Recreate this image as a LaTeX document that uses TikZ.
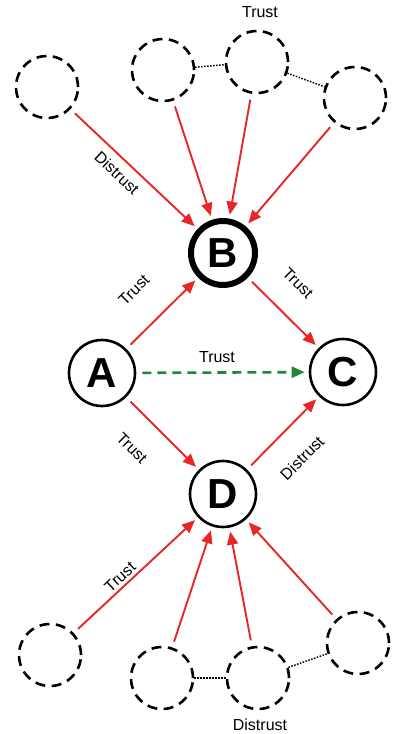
\documentclass[tikz,border=0pt]{standalone}
\usepackage{fontspec}
\setmainfont{Liberation Sans}
\usetikzlibrary{arrows.meta}
\definecolor{arrred}{RGB}{232,38,38}
\definecolor{arrgreen}{RGB}{34,135,48}
\tikzset{
  main/.style={circle, draw, line width=2.6pt, minimum size=66pt, inner sep=0pt, font=\fontsize{42}{42}\selectfont\bfseries},
  mainthick/.style={main, line width=6pt, minimum size=64pt},
  ghost/.style={circle, draw, line width=2.6pt, minimum size=62pt, inner sep=0pt, dash pattern=on 10pt off 6.4pt},
  rel/.style={draw=arrred, line width=1.9pt, -{Triangle[length=13pt,width=11pt]}, shorten >=4pt, shorten <=6pt},
  trans/.style={draw=arrgreen, line width=2.6pt, dash pattern=on 9pt off 6pt, -{Triangle[length=13pt,width=11pt]}, shorten >=4pt, shorten <=6pt},
  link/.style={line width=1.5pt, dash pattern=on 1.5pt off 1.5pt},
  lbl/.style={font=\fontsize{16}{16}\selectfont, inner sep=0pt}
}
\begin{document}
\begin{tikzpicture}[x=1pt,y=-1pt]
\useasboundingbox (0,0) rectangle (392,734);
% main nodes
\node[main] (A) at (102,373) {A};
\node[mainthick] (B) at (223,253) {B};
\node[main] (C) at (343,372) {C};
\node[main] (D) at (223,494) {D};
% top ghosts
\node[ghost] (T1) at (47,87) {};
\node[ghost] (T2) at (163,70) {};
\node[ghost] (T3) at (257,62) {};
\node[ghost] (T4) at (355,98) {};
% bottom ghosts
\node[ghost] (L1) at (50,655) {};
\node[ghost] (L2) at (162,678) {};
\node[ghost] (L3) at (258,678) {};
\node[ghost] (L4) at (358,643) {};
% dotted links
\draw[link] (T2) -- (T3);
\draw[link] (T3) -- (T4);
\draw[link] (L2) -- (L3);
\draw[link] (L3) -- (L4);
% top arrows
\draw[rel] (T1) -- (B);
\draw[rel] (T2) -- (B);
\draw[rel] (T3) -- (B);
\draw[rel] (T4) -- (B);
% middle
\draw[rel] (A) -- (B);
\draw[rel] (B) -- (C);
\draw[trans] (A) -- (C);
\draw[rel] (A) -- (D);
\draw[rel] (D) -- (C);
% bottom arrows
\draw[rel] (L1) -- (D);
\draw[rel] (L2) -- (D);
\draw[rel] (L3) -- (D);
\draw[rel] (L4) -- (D);
% labels
\node[lbl] (t0) at (260,12) {Trust};
\node[lbl, rotate=-43] (t1) at (117,173) {Distrust};
\node[lbl, rotate=45] (t2) at (134,290) {Trust};
\node[lbl, rotate=-45] (t3) at (298,283) {Trust};
\node[lbl] (t4) at (217,357) {Trust};
\node[lbl, rotate=-45] (t5) at (132,448) {Trust};
\node[lbl, rotate=45] (t6) at (302,458) {Distrust};
\node[lbl, rotate=43] (t7) at (120,577) {Trust};
\node[lbl] (t8) at (260,725) {Distrust};
\end{tikzpicture}
\end{document}
